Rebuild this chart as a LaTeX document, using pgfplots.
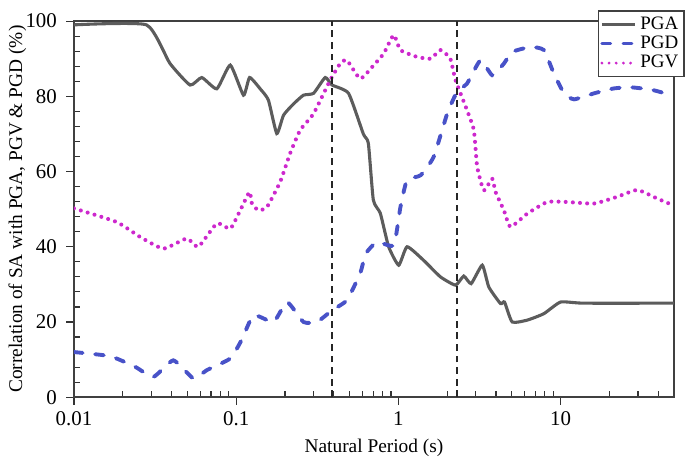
\documentclass[border=0pt]{standalone}
\usepackage{fontspec}
\setmainfont{Liberation Serif}
\usepackage{pgfplots}
\pgfplotsset{compat=1.18}
\definecolor{pgacol}{RGB}{92,92,92}
\definecolor{pgdcol}{RGB}{72,82,200}
\definecolor{pgvcol}{RGB}{205,40,205}
\begin{document}
\begin{tikzpicture}
\begin{axis}[
  name=ax,
  scale only axis, width=310pt, height=194.3pt,
  xmode=log, xmin=0.01, xmax=50, ymin=0, ymax=100,
  xtick={0.01,0.1,1,10}, xticklabels={0.01,0.1,1,10},
  minor xtick={0.02,0.03,0.04,0.05,0.06,0.07,0.08,0.09,
    0.2,0.3,0.4,0.5,0.6,0.7,0.8,0.9,2,3,4,5,6,7,8,9,20,30,40},
  ytick={0,20,...,100},
  minor ytick={4,8,12,16,24,28,32,36,44,48,52,56,64,68,72,76,84,88,92,96},
  xtick pos=left, ytick pos=left,
  tick align=inside, major tick length=-4pt, minor tick length=3pt,
  tick style={black!80, line width=0.6pt},
  minor tick style={black!80, line width=0.6pt},
  axis line style={black!75, line width=0.8pt},
  xlabel={Natural Period (s)},
  ylabel={Correlation of SA with PGA, PGV \& PGD (\%)},
  font=\fontsize{10}{12}\selectfont,
  tick label style={font=\fontsize{10.8}{12}\selectfont},
  /pgf/number format/assume math mode=true,
  xticklabel style={anchor=center, yshift=-10.9pt},
  yticklabel style={anchor=east, inner xsep=0pt, xshift=-8.6pt},
  xlabel style={at={(axis description cs:0.5,-0.1356)}, anchor=center},
  ylabel style={at={(axis description cs:-0.0942,0.5)}, anchor=center},
  legend style={at={(1.018,1.029)}, anchor=north east, draw=black!75, line width=0.7pt,
    font=\fontsize{9.8}{10}\selectfont, inner sep=1pt, row sep=-2pt,
    legend cell align=left},
  legend image post style={line width=1.6pt},
]
\addplot[pgacol, line width=1.6pt, smooth, tension=0.3] coordinates {
  (0.01,99) (0.028,99) (0.039,88.8) (0.052,83) (0.0614,85) (0.076,82)
  (0.092,88.3) (0.111,80.3) (0.121,85) (0.1406,82) (0.158,79) (0.178,70.1)
  (0.196,75) (0.226,78) (0.26,80.3) (0.30,80.8) (0.354,85) (0.39,83)
  (0.493,80.8) (0.608,70) (0.653,67.5) (0.701,52.4) (0.774,48.9) (0.871,40)
  (1.005,35.1) (1.132,40) (1.43,36.4) (1.816,32) (2.25,29.8) (2.53,32.2)
  (2.81,30.2) (3.29,35.1) (3.61,29.3) (4.26,24.9) (4.51,25.3) (5.03,20)
  (6.23,20.5) (7.88,22.2) (10,25.3) (13.9,25) (50,25)};
\addlegendentry{PGA}
\addplot[pgdcol, line width=2pt, dash pattern=on 4.5pt off 6.5pt, line cap=round, smooth, tension=0.3] coordinates {
  (0.01,12) (0.0167,10.9) (0.0238,8.1) (0.0309,5.4) (0.041,9.8) (0.0545,5)
  (0.066,7.2) (0.092,10.3) (0.108,15.2) (0.128,21.8) (0.17,20) (0.206,25.3)
  (0.26,20) (0.315,20) (0.39,23.1) (0.482,25.8) (0.582,33) (0.63,38.2)
  (0.739,41.3) (0.936,40.4) (1.03,50.6) (1.13,57.7) (1.37,59) (1.65,63.9)
  (2.0,75.4) (2.3,81.2) (2.65,83.4) (3.21,89.6) (3.79,85.6) (4.47,88.7)
  (5.03,91.8) (6.53,93.1) (7.88,92.3) (9.1,86) (10.5,80.8) (12.1,79.2)
  (16.1,80.8) (21.3,82.1) (27.0,82.4) (35.9,81.8) (42.4,81) (48,80.4)};
\addlegendentry{PGD}
\addplot[pgvcol, line width=2.1pt, dash pattern=on 0pt off 3.7pt, line cap=round, smooth, tension=0.3] coordinates {
  (0.01,50.2) (0.0183,46.6) (0.0256,42.6) (0.0356,39.5) (0.0496,42.2)
  (0.0585,40) (0.076,46.2) (0.092,44.8) (0.106,49.7) (0.121,54.6)
  (0.125,51.5) (0.137,49.7) (0.155,50.6) (0.187,57.3) (0.215,64.8)
  (0.248,71) (0.30,75.4) (0.38,84.3) (0.438,88.7) (0.482,89.6) (0.582,84.7)
  (0.705,88.3) (0.813,91.4) (0.936,96.3) (1.03,92.3) (1.30,90.5) (1.58,90)
  (1.82,92.3) (2.09,90) (2.25,84.3) (2.65,76.3) (2.92,71) (3.06,61.3)
  (3.36,55) (3.79,58.1) (3.97,54.6) (4.47,49.7) (4.91,45.3) (6.23,48.8)
  (8.27,51.9) (11.0,51.9) (16.1,51.5) (22.4,53.3) (29.7,55.1) (39.5,52.8)
  (49,51.1)};
\addlegendentry{PGV}
\addplot[black!85, line width=1pt, dash pattern=on 3.5pt off 2.5pt, forget plot] coordinates {(0.39,0) (0.39,100)};
\addplot[black!85, line width=1pt, dash pattern=on 3.5pt off 2.5pt, forget plot] coordinates {(2.3,0) (2.3,100)};
\end{axis}
\pgfresetboundingbox
\path ([xshift=-38.2pt,yshift=-30.5pt]ax.south west) rectangle ([xshift=6.2pt,yshift=10.9pt]ax.north east);
\end{tikzpicture}
\end{document}
